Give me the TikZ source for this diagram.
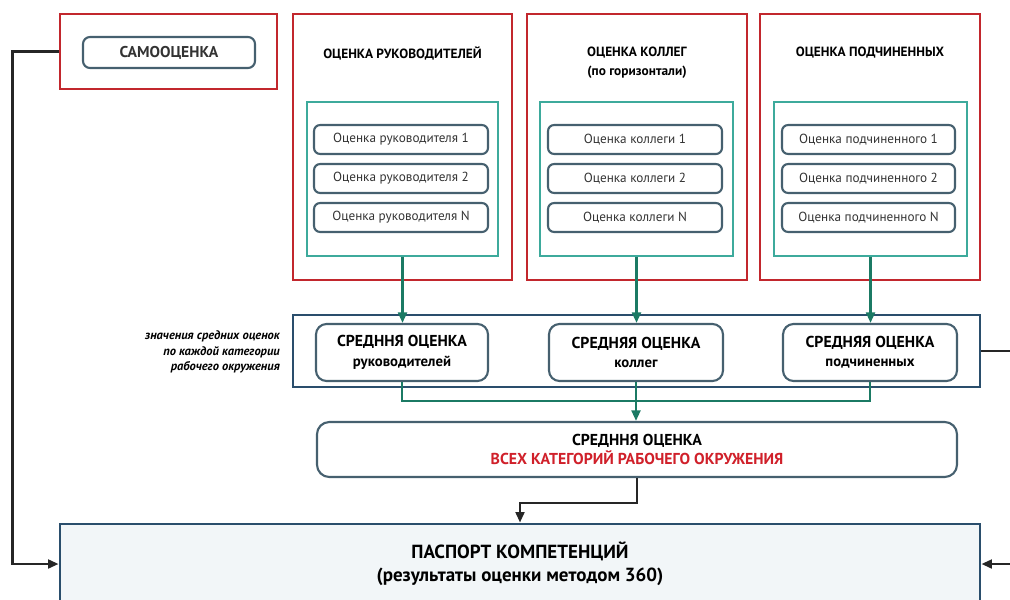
\documentclass[tikz,border=0pt]{standalone}
\usepackage{fontspec}
\setmainfont{PT Sans}
\usepackage{tikz}
\usetikzlibrary{arrows.meta,fit}
\definecolor{frame}{HTML}{C2272D}
\definecolor{tealbox}{HTML}{3DAA9C}
\definecolor{slate}{HTML}{46606F}
\definecolor{arrowgreen}{HTML}{1B7A64}
\definecolor{navy}{HTML}{2A4E6C}
\definecolor{paleblue}{HTML}{F2F6F8}
\definecolor{redtext}{HTML}{D0202A}
\def\u{0.02cm}
\tikzset{
  group/.style={draw=frame, line width=1.6pt, inner sep=0pt},
  pool/.style={draw=tealbox, line width=1pt, inner sep=0pt},
  band/.style={draw=navy, line width=1.6pt, inner sep=0pt},
  rater/.style={draw=slate, line width=1.2pt, rounded corners=3.5pt, minimum height=29*\u,
    font=\fontsize{7.5}{9}\selectfont, text=black!80},
  mean/.style={draw=slate, line width=1.2pt, rounded corners=6pt, fill=white, align=center,
    minimum width=172*\u, minimum height=57*\u, font=\bfseries\fontsize{9}{11}\selectfont},
  head/.style={font=\bfseries\fontsize{7.6}{10.5}\selectfont, align=center},
  note/.style={font=\bfseries\itshape\fontsize{7.1}{8.8}\selectfont, align=right},
  conn/.style={draw=black!85, line width=1.4pt, -{Triangle[length=6pt,width=5pt]}},
  gconn/.style={draw=arrowgreen, line width=1.4pt},
  garrow/.style={gconn, -{Triangle[length=6pt,width=5pt]}},
}

\begin{document}
\begin{tikzpicture}[x=\u, y=-\u]
  \clip (0,0) rectangle (1010,599);
  % self assessment
  \node[group, fit={(60,14) (277,89)}] (selfgrp) {};
  \node[rater, minimum width=172*\u, minimum height=31*\u, rounded corners=4pt,
    font=\bfseries\fontsize{8.9}{10}\selectfont] (self) at (169,52.5) {САМООЦЕНКА};

  % managers
  \node[group, fit={(293,14) (512,280)}] (mgrp) {};
  \node[head] (mhead) at (402.5,53) {ОЦЕНКА РУКОВОДИТЕЛЕЙ};
  \node[pool, fit={(307,102) (498,256)}] (mpool) {};
  \node[rater, minimum width=174*\u] (m1) at (401,139.5) {Оценка руководителя 1};
  \node[rater, minimum width=174*\u] (m2) at (401,178.5) {Оценка руководителя 2};
  \node[rater, minimum width=174*\u] (m3) at (401,217.5) {Оценка руководителя N};

  % colleagues
  \node[group, fit={(527,14) (747,280)}] (cgrp) {};
  \node[head] (chead) at (637,62.5) {ОЦЕНКА КОЛЛЕГ\\(по горизонтали)};
  \node[pool, fit={(540,102) (733,256)}] (cpool) {};
  \node[rater, minimum width=174*\u] (c1) at (635,139.5) {Оценка коллеги 1};
  \node[rater, minimum width=174*\u] (c2) at (635,178.5) {Оценка коллеги 2};
  \node[rater, minimum width=174*\u] (c3) at (635,217.5) {Оценка коллеги N};

  % subordinates
  \node[group, fit={(760,14) (980,280)}] (sgrp) {};
  \node[head] (shead) at (870,53) {ОЦЕНКА ПОДЧИНЕННЫХ};
  \node[pool, fit={(774,102) (967,256)}] (spool) {};
  \node[rater, minimum width=173*\u] (s1) at (868.5,139.5) {Оценка подчиненного 1};
  \node[rater, minimum width=173*\u] (s2) at (868.5,178.5) {Оценка подчиненного 2};
  \node[rater, minimum width=173*\u] (s3) at (868.5,217.5) {Оценка подчиненного N};

  % averages per category
  \node[band, fit={(293,315) (980,387)}] (band) {};
  \node[note, anchor=east] (bandnote) at (286,352) {значения средних оценок\\по каждой категории\\рабочего окружения};
  \node[mean] (mavg) at (402,352.5) {СРЕДННЯ ОЦЕНКА\\{\fontsize{8.4}{10}\selectfont руководителей}};
  \node[mean, minimum width=174*\u] (cavg) at (636,352.5) {СРЕДНЯЯ ОЦЕНКА\\{\fontsize{8.4}{10}\selectfont коллег}};
  \node[mean, minimum width=174*\u] (savg) at (870,352.5) {СРЕДНЯЯ ОЦЕНКА\\{\fontsize{8.4}{10}\selectfont подчиненных}};

  \node[mean, minimum width=640*\u, minimum height=55*\u, rounded corners=7pt] (total) at (637,449.5)
    {СРЕДННЯ ОЦЕНКА\\\textcolor{redtext}{ВСЕХ КАТЕГОРИЙ РАБОЧЕГО ОКРУЖЕНИЯ}};

  \node[band, fill=paleblue, minimum width=920*\u, minimum height=80*\u, align=center,
    font=\bfseries\fontsize{10.8}{13}\selectfont] (pass) at (520,564)
    {ПАСПОРТ КОМПЕТЕНЦИЙ\\(результаты оценки методом 360)};

  % connectors
  \draw[garrow] (mpool.south) -- (mpool.south |- mavg.north);
  \draw[garrow] (cpool.south) -- (cpool.south |- cavg.north);
  \draw[garrow] (spool.south) -- (spool.south |- savg.north);
  \draw[gconn] (mavg.south) -- ++(0,19) -| (savg.south);
  \draw[garrow] (cavg.south) -- (cavg.south |- total.north);
  \draw[conn] (total.south) -- ++(0,25) -| (pass.north);
  \draw[conn] (selfgrp.west) -- ++(-46,0) |- (pass.west);
  \draw[conn] (band.east) -- ++(35,0) |- (pass.east);
\end{tikzpicture}
\end{document}
